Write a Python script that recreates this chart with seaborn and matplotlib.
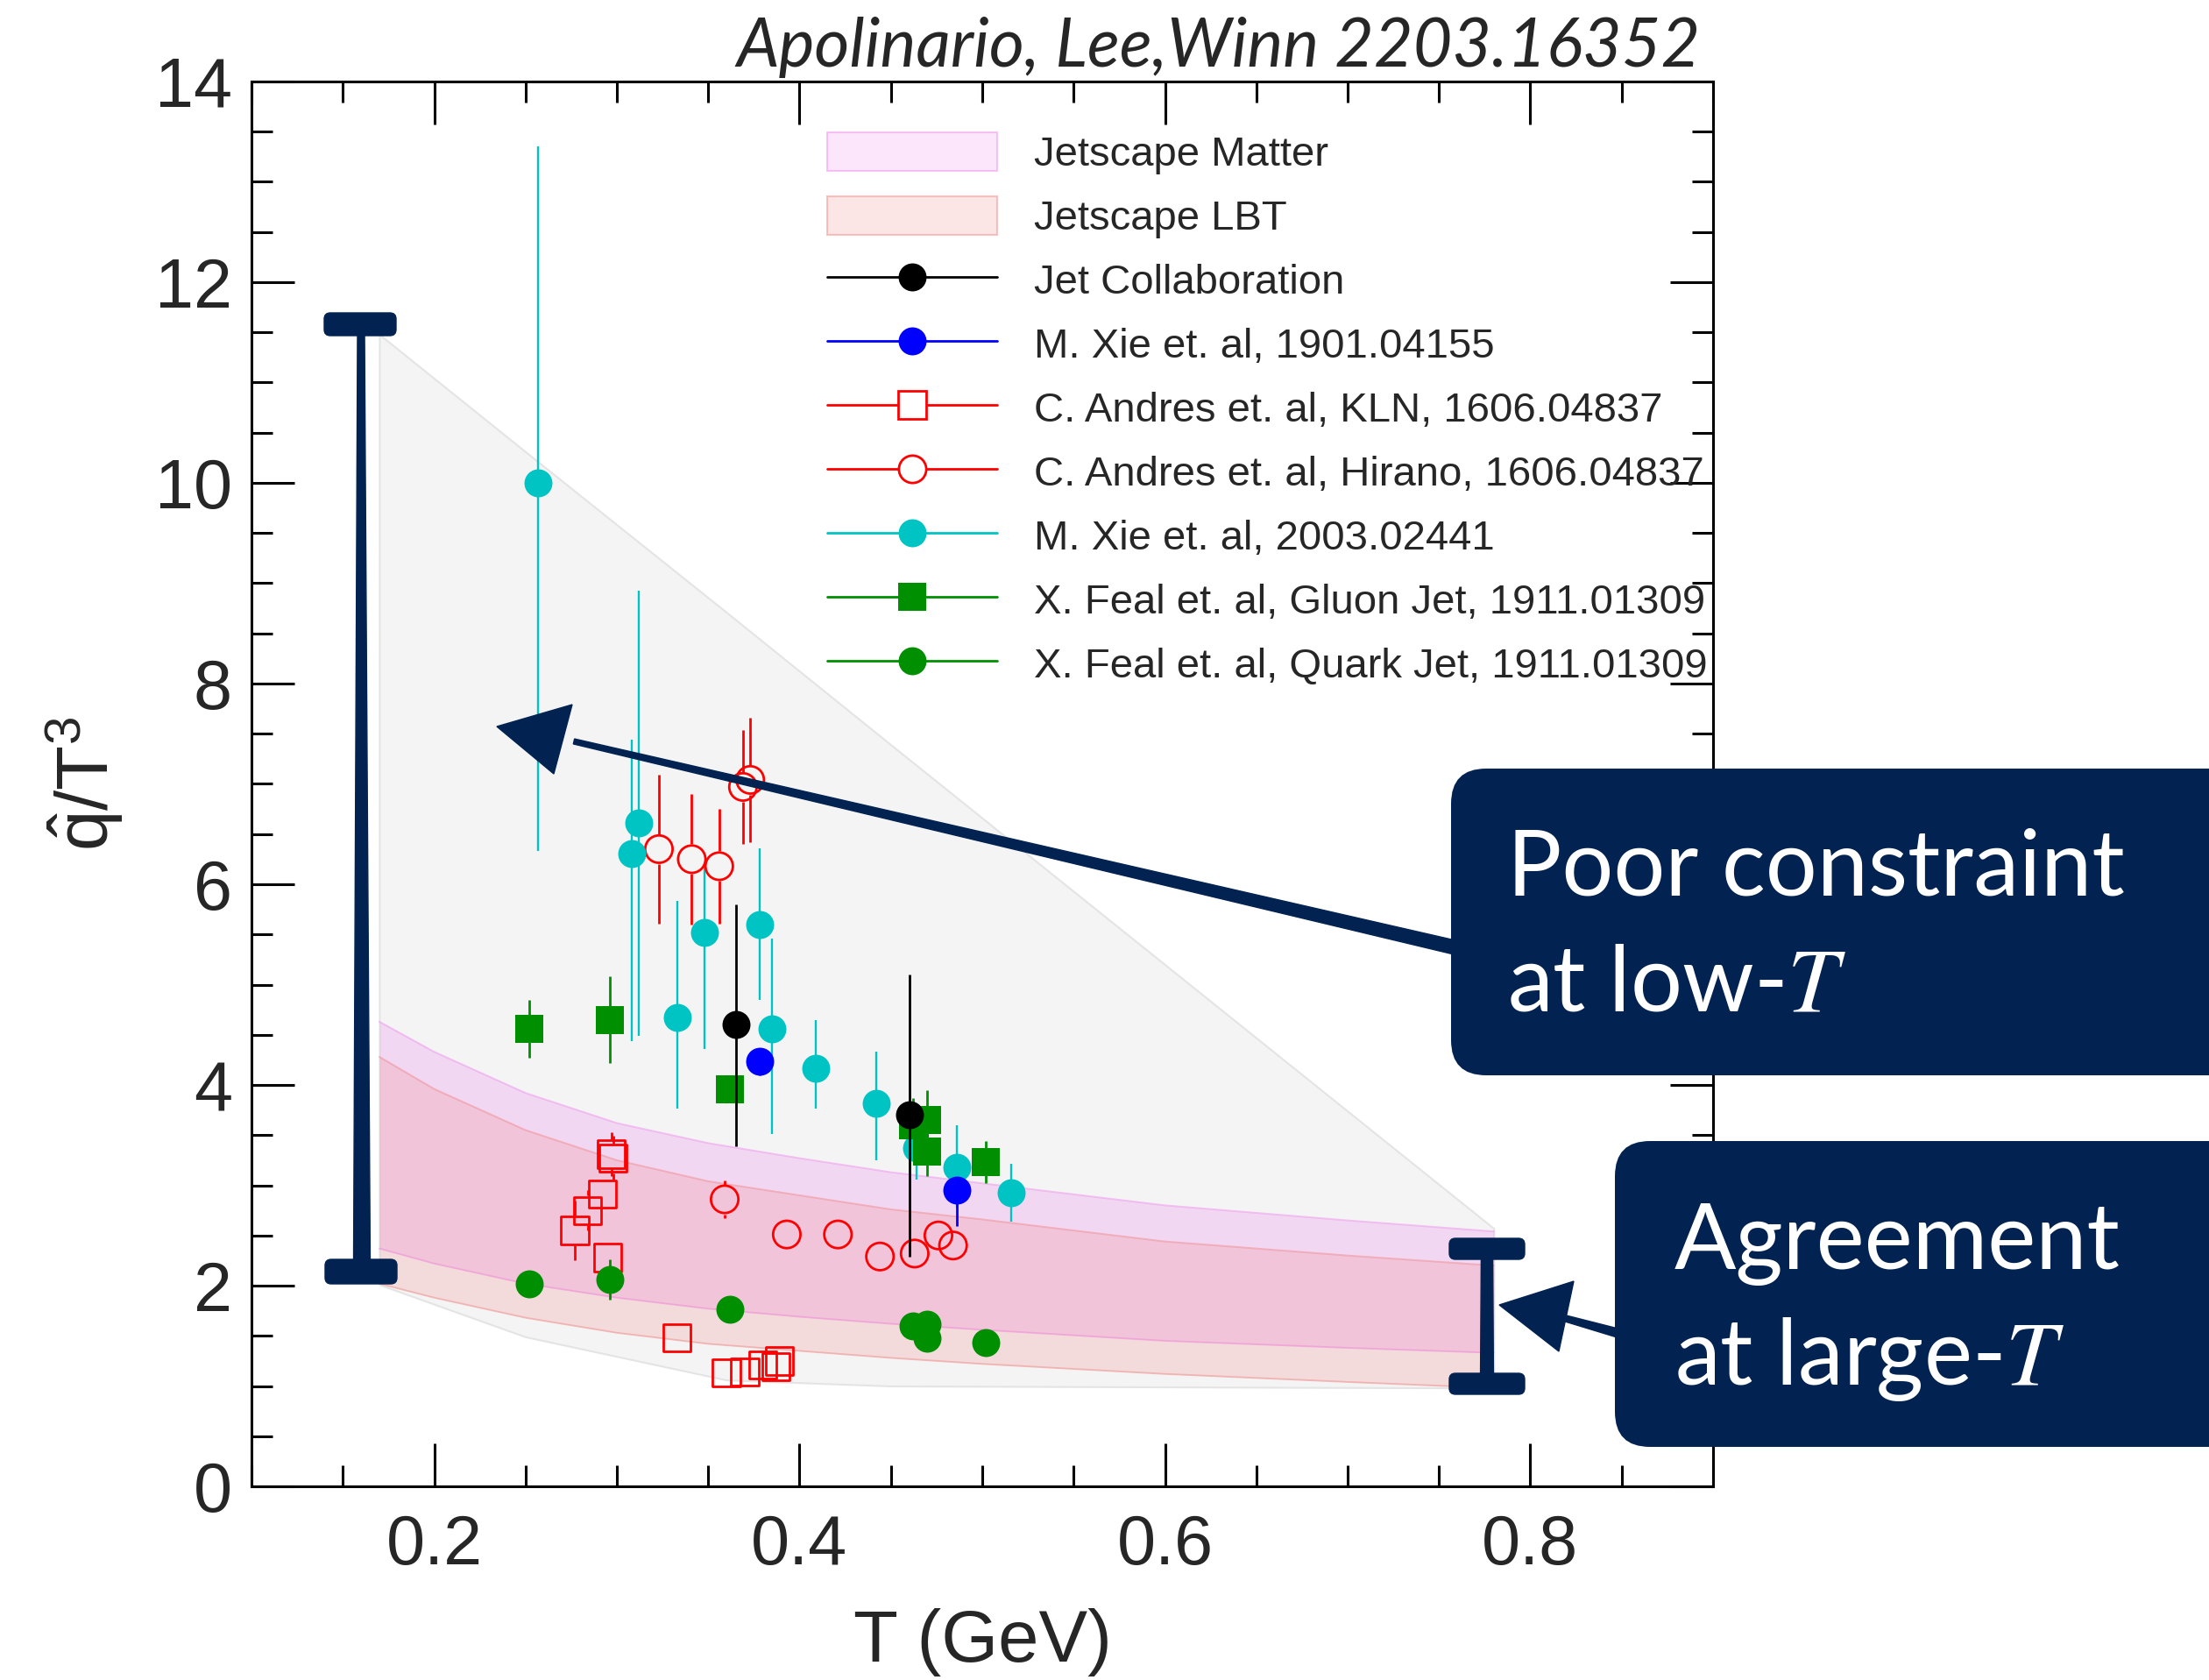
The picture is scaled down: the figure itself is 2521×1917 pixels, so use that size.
import numpy as np
import pandas as pd
import matplotlib
matplotlib.use("Agg")
import matplotlib.pyplot as plt
import seaborn as sns
from matplotlib.lines import Line2D
from matplotlib.patches import Patch, Polygon, FancyBboxPatch
from matplotlib.ticker import MultipleLocator
from matplotlib.transforms import IdentityTransform

# ---------------- data ----------------
# JETSCAPE bands (q-hat / T^3 vs T)
band_T = [0.17, 0.20, 0.25, 0.30, 0.35, 0.40, 0.45, 0.50, 0.60, 0.70, 0.78]
matter_hi = [4.63, 4.33, 3.92, 3.62, 3.42, 3.27, 3.13, 3.02, 2.80, 2.65, 2.54]
matter_lo = [2.37, 2.22, 2.02, 1.88, 1.77, 1.69, 1.62, 1.56, 1.45, 1.38, 1.33]
lbt_hi = [4.28, 3.96, 3.55, 3.25, 3.04, 2.90, 2.76, 2.66, 2.44, 2.30, 2.20]
lbt_lo = [2.02, 1.88, 1.68, 1.53, 1.42, 1.35, 1.28, 1.22, 1.12, 1.04, 0.98]

# envelope of all model extractions
env_T = [0.17, 0.25, 0.36, 0.45, 0.78]
env_hi = [11.48, 10.31, 8.71, 7.39, 2.57]
env_lo = [2.01, 1.49, 1.06, 1.00, 0.98]

# Jet Collaboration
jet_T = [0.365, 0.460]
jet_q = [4.60, 3.70]
jet_lo = [1.21, 1.41]
jet_hi = [1.20, 1.40]

# M. Xie et al, 1901.04155
xie19_T = [0.378, 0.486]
xie19_q = [4.24, 2.95]
xie19_lo = [0.14, 0.36]
xie19_hi = [0.12, 0.35]

# C. Andres et al, KLN
kln_T = [0.277, 0.284, 0.292, 0.297, 0.298, 0.295, 0.333, 0.360, 0.370, 0.380, 0.387, 0.389]
kln_q = [2.55, 2.75, 2.91, 3.31, 3.27, 2.28, 1.48, 1.13, 1.14, 1.21, 1.19, 1.25]
kln_err = [0.30, 0.20, 0.15, 0.22, 0.22, 0.10, 0.0, 0.0, 0.0, 0.0, 0.0, 0.0]

# C. Andres et al, Hirano
hir_T = [0.323, 0.341, 0.356, 0.359, 0.369, 0.373, 0.393, 0.421, 0.444, 0.463, 0.476, 0.484]
hir_q = [6.35, 6.25, 6.18, 2.86, 6.97, 7.04, 2.51, 2.51, 2.29, 2.32, 2.50, 2.40]
hir_err = [0.74, 0.65, 0.57, 0.19, 0.57, 0.62, 0.0, 0.0, 0.0, 0.0, 0.0, 0.0]

# M. Xie et al, 2003.02441
xie20_T = [0.257, 0.308, 0.312, 0.333, 0.348, 0.378, 0.385, 0.409, 0.442, 0.464, 0.486, 0.516]
xie20_q = [10.0, 6.31, 6.61, 4.67, 5.52, 5.60, 4.56, 4.17, 3.82, 3.37, 3.18, 2.93]
xie20_lo = [3.67, 1.87, 2.12, 0.91, 1.16, 0.75, 1.05, 0.41, 0.57, 0.31, 0.40, 0.29]
xie20_hi = [3.35, 1.13, 2.32, 1.16, 0.67, 0.76, 0.90, 0.48, 0.51, 0.31, 0.42, 0.28]

# X. Feal et al, gluon jets
gluon_T = [0.252, 0.296, 0.362, 0.462, 0.470, 0.470, 0.502]
gluon_q = [4.56, 4.65, 3.96, 3.60, 3.65, 3.34, 3.23]
gluon_err = [0.29, 0.43, 0.0, 0.27, 0.30, 0.25, 0.21]

# X. Feal et al, quark jets
quark_T = [0.252, 0.296, 0.362, 0.462, 0.470, 0.470, 0.502]
quark_q = [2.02, 2.06, 1.76, 1.60, 1.62, 1.48, 1.43]
quark_err = [0.0, 0.20, 0.0, 0.0, 0.0, 0.0, 0.0]

legend_labels = [
    "Jetscape Matter",
    "Jetscape LBT",
    "Jet Collaboration",
    "M. Xie et. al, 1901.04155",
    "C. Andres et. al, KLN, 1606.04837",
    "C. Andres et. al, Hirano, 1606.04837",
    "M. Xie et. al, 2003.02441",
    "X. Feal et. al, Gluon Jet, 1911.01309",
    "X. Feal et. al, Quark Jet, 1911.01309",
]

# ---------------- style ----------------
sns.set_theme(style="ticks")
plt.rcParams["font.family"] = ["Liberation Sans", "DejaVu Sans"]
plt.rcParams["mathtext.fontset"] = "custom"
plt.rcParams["mathtext.rm"] = "Liberation Sans"
plt.rcParams["mathtext.it"] = "Liberation Sans:italic"

W, H = 2521, 1917
DPI = 100
NAVY = "#022351"
CYAN = "#00c4c4"
GREEN = "#008f00"
RED = "#ff0000"
BLUE = "#0000ff"
VIOLET = "#ee82ee"
SALMON = "#f08080"

fig = plt.figure(figsize=(W / DPI, H / DPI), dpi=DPI)
fig.patch.set_facecolor("white")
ax = fig.add_axes([287 / W, 1 - 1696 / H, (1955 - 287) / W, (1696 - 93) / H])
ax.set_facecolor("white")
ax.set_xlim(0.1, 0.9)
ax.set_ylim(0, 14)

# ---------------- bands ----------------
ax.fill_between(env_T, env_lo, env_hi, facecolor="#f4f4f4", edgecolor="#e4e4e4",
                linewidth=1.5, zorder=1)

ax.fill_between(band_T, matter_lo, matter_hi, facecolor=VIOLET, alpha=0.25,
                linewidth=0, zorder=2)
for edge in (matter_lo, matter_hi):
    ax.plot(band_T, edge, color=VIOLET, alpha=0.45, lw=1.4, zorder=2.1)

ax.fill_between(band_T, lbt_lo, lbt_hi, facecolor=SALMON, alpha=0.21,
                linewidth=0, zorder=3)
for edge in (lbt_lo, lbt_hi):
    ax.plot(band_T, edge, color=SALMON, alpha=0.45, lw=1.4, zorder=3.1)

# ---------------- data points ----------------
px_per_unit = ax.transData.transform((0, 1))[1] - ax.transData.transform((0, 0))[1]


def errors(T, q, lo, hi, color, lw, gap_pt=0.0, z=4):
    T = np.asarray(T, float)
    q = np.asarray(q, float)
    lo = np.asarray(lo, float)
    hi = np.asarray(hi, float)
    gap = gap_pt * DPI / 72.0 / px_per_unit
    up = hi > gap
    dn = lo > gap
    ax.vlines(T[up], q[up] + gap, q[up] + hi[up], color=color, lw=lw, zorder=z)
    ax.vlines(T[dn], q[dn] - lo[dn], q[dn] - gap, color=color, lw=lw, zorder=z)


def points(T, q, marker, color, size, filled, z, ew=2.0):
    df = pd.DataFrame({"T": T, "q": q})
    if filled:
        sns.scatterplot(data=df, x="T", y="q", marker=marker, s=size ** 2,
                        color=color, edgecolor=color, linewidth=0, zorder=z, ax=ax)
    else:
        sns.scatterplot(data=df, x="T", y="q", marker=marker, s=size ** 2,
                        color=color, facecolor="none", edgecolor=color,
                        linewidth=ew, zorder=z, ax=ax)


HOLLOW = 22.5
FILLED = 23.0
SQUARE = 23.5

errors(kln_T, kln_q, kln_err, kln_err, RED, 2.0, gap_pt=HOLLOW / 2 + 1, z=4)
errors(hir_T, hir_q, hir_err, hir_err, RED, 2.0, gap_pt=HOLLOW / 2 + 1, z=4)
errors(xie20_T, xie20_q, xie20_lo, xie20_hi, CYAN, 1.7, z=4)
errors(gluon_T, gluon_q, gluon_err, gluon_err, GREEN, 2.0, z=4)
errors(quark_T, quark_q, quark_err, quark_err, GREEN, 2.0, z=4)
errors(xie19_T, xie19_q, xie19_lo, xie19_hi, BLUE, 2.0, z=4)
errors(jet_T, jet_q, jet_lo, jet_hi, "black", 2.0, z=8.5)

points(kln_T, kln_q, "s", RED, HOLLOW, False, 5)
points(hir_T, hir_q, "o", RED, HOLLOW, False, 5)
points(xie20_T, xie20_q, "o", CYAN, FILLED, True, 6)
points(gluon_T, gluon_q, "s", GREEN, SQUARE, True, 7)
points(quark_T, quark_q, "o", GREEN, FILLED, True, 7.5)
points(xie19_T, xie19_q, "o", BLUE, FILLED, True, 8)
points(jet_T, jet_q, "o", "black", FILLED, True, 9)

# ---------------- axes styling ----------------
ax.xaxis.set_major_locator(MultipleLocator(0.2))
ax.xaxis.set_minor_locator(MultipleLocator(0.05))
ax.yaxis.set_major_locator(MultipleLocator(2))
ax.yaxis.set_minor_locator(MultipleLocator(0.5))
ax.tick_params(which="both", direction="in", top=True, right=True, width=2.2,
               color="black")
ax.tick_params(which="major", length=35)
ax.tick_params(which="minor", length=17)
ax.tick_params(axis="x", which="major", labelsize=57, pad=22)
ax.tick_params(axis="y", which="major", labelsize=57, pad=16)
for s in ax.spines.values():
    s.set_linewidth(2.2)
    s.set_color("black")

ax.set_xlabel("T (GeV)", fontsize=60, labelpad=24)
ax.set_ylabel(r"$\hat{\mathrm{q}}$/T$^{3}$", fontsize=60, labelpad=24)

ax.text(0.9916, 1.0106, "Apolinario, Lee,Winn 2203.16352", transform=ax.transAxes,
        ha="right", va="baseline", fontsize=55.5, fontfamily="Lato", fontstyle="italic")

# ---------------- legend ----------------
handles = [
    Patch(facecolor=matplotlib.colors.to_rgba(VIOLET, 0.2),
          edgecolor=matplotlib.colors.to_rgba(VIOLET, 0.45), linewidth=1.5),
    Patch(facecolor=matplotlib.colors.to_rgba(SALMON, 0.2),
          edgecolor=matplotlib.colors.to_rgba(SALMON, 0.45), linewidth=1.5),
    Line2D([0], [0], color="black", lw=2, marker="o", markersize=FILLED,
           markerfacecolor="black", markeredgewidth=0),
    Line2D([0], [0], color=BLUE, lw=2, marker="o", markersize=FILLED,
           markerfacecolor=BLUE, markeredgewidth=0),
    Line2D([0], [0], color=RED, lw=2, marker="s", markersize=HOLLOW,
           markerfacecolor="white", markeredgecolor=RED, markeredgewidth=2),
    Line2D([0], [0], color=RED, lw=2, marker="o", markersize=HOLLOW,
           markerfacecolor="white", markeredgecolor=RED, markeredgewidth=2),
    Line2D([0], [0], color=CYAN, lw=2, marker="o", markersize=FILLED,
           markerfacecolor=CYAN, markeredgewidth=0),
    Line2D([0], [0], color=GREEN, lw=2, marker="s", markersize=SQUARE,
           markerfacecolor=GREEN, markeredgewidth=0),
    Line2D([0], [0], color=GREEN, lw=2, marker="o", markersize=FILLED,
           markerfacecolor=GREEN, markeredgewidth=0),
]
leg = ax.legend(handles, legend_labels, loc="upper left",
                bbox_to_anchor=(0.394, 0.9638), frameon=False, fontsize=34,
                handlelength=4.11, handleheight=1.06, handletextpad=0.89,
                labelspacing=0.525, borderpad=0, borderaxespad=0)
leg.set_zorder(10)

# ---------------- annotations (pixel coordinates, origin top-left) ----------------
ID = IdentityTransform()


def P(x, y):
    return (x, H - y)


def add_poly(pts, z=30):
    fig.add_artist(Polygon([P(*p) for p in pts], closed=True, transform=ID,
                           facecolor=NAVY, edgecolor=NAVY, linewidth=1, zorder=z))


def stroke(p0, p1, w0, w1, z=30):
    (x0, y0), (x1, y1) = p0, p1
    dx, dy = x1 - x0, y1 - y0
    L = np.hypot(dx, dy)
    nx, ny = -dy / L, dx / L
    add_poly([(x0 + nx * w0 / 2, y0 + ny * w0 / 2), (x1 + nx * w1 / 2, y1 + ny * w1 / 2),
              (x1 - nx * w1 / 2, y1 - ny * w1 / 2), (x0 - nx * w0 / 2, y0 - ny * w0 / 2)], z)


def cap(x0, x1, y0, y1, z=30):
    fig.add_artist(FancyBboxPatch(P(x0, y1), x1 - x0, y1 - y0,
                                  boxstyle="round,pad=0,rounding_size=7", transform=ID,
                                  facecolor=NAVY, edgecolor=NAVY, linewidth=1, zorder=z))


# bracket spanning the spread at low T
stroke((412, 375), (413, 1445), 8, 19)
cap(370, 452, 357, 383)
cap(371, 453, 1437, 1465)

# bracket at large T
stroke((1697, 1420), (1697, 1582), 13, 15)
cap(1654, 1740, 1413, 1437)
cap(1654, 1740, 1567, 1591)

# arrow towards the low-T spread
stroke((655, 846), (1660, 1081), 6, 16)
add_poly([(567, 829), (653, 804), (632, 883)])

# arrow towards the large-T agreement
stroke((1785, 1504), (1846, 1521), 7, 10)
add_poly([(1711, 1489), (1796, 1462), (1779, 1542)])

# callout boxes
for (x0, y0, y1) in [(1656, 877, 1227), (1843, 1302, 1651)]:
    fig.add_artist(FancyBboxPatch(P(x0, y1), 1200, y1 - y0,
                                  boxstyle="round,pad=0,rounding_size=40", transform=ID,
                                  facecolor=NAVY, edgecolor=NAVY, linewidth=0, zorder=31))

box_text = dict(transform=ID, color="white", fontsize=75, fontfamily="Lato",
                math_fontfamily="stix", ha="left", va="baseline", zorder=32)
fig.text(*P(1720, 1021), "Poor constraint", **box_text)
fig.text(*P(1720, 1153), "at low-$T$", **box_text)
fig.text(*P(1911, 1448), "Agreement", **box_text)
fig.text(*P(1911, 1580), "at large-$T$", **box_text)

fig.savefig("out.png", dpi=DPI)
